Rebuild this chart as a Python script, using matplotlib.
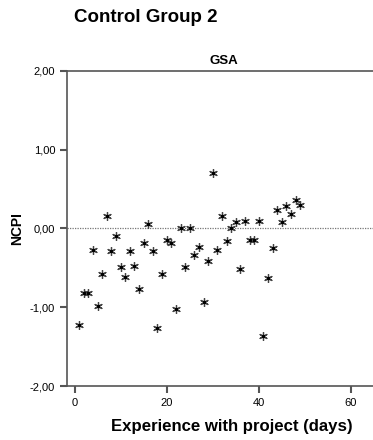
import matplotlib
matplotlib.use("Agg")
import matplotlib.pyplot as plt

plt.rcParams['font.family'] = ['Liberation Sans', 'DejaVu Sans']

days = list(range(1, 50))
ncpi = [-1.22, -0.82, -0.82, -0.27, -0.98, -0.58, 0.16, -0.29, -0.10, -0.49,
        -0.61, -0.29, -0.48, -0.77, -0.19, 0.06, -0.28, -1.26, -0.58, -0.15,
        -0.19, -1.02, 0.00, -0.49, 0.00, -0.34, -0.24, -0.93, -0.41, 0.71,
        -0.27, 0.16, -0.16, 0.00, 0.08, -0.51, 0.10, -0.15, -0.15, 0.10,
        -1.37, -0.63, -0.25, 0.23, 0.08, 0.28, 0.18, 0.36, 0.30]

y_ticks = [-2, -1, 0, 1, 2]
y_labels = ["-2,00", "-1,00", "0,00", "1,00", "2,00"]
x_ticks = [0, 20, 40, 60]

fig = plt.figure(figsize=(3.73, 4.40), dpi=100)
ax = fig.add_axes([67/373, 54/440, 306/373, 315/440])

axis_col = "#555555"
ax.axhline(0, color="#777777", lw=0.9, ls=(0, (1, 1)), zorder=1)
ax.plot(days, ncpi, ls="none", marker=(6, 2, 0), ms=6.2, mew=0.9,
        color="#444444", zorder=3)
ax.plot(days, ncpi, ls="none", marker="s", ms=2, color="black", zorder=4)

ax.set_xlim(-1.65, 64.8)
ax.set_ylim(-2, 2)
ax.set_xticks(x_ticks)
ax.set_yticks(y_ticks)
ax.set_yticklabels(y_labels)
ax.tick_params(axis="both", colors=axis_col, labelcolor="black",
               labelsize=8, length=5, width=1.5)
ax.spines["right"].set_visible(False)
for s in ["left", "bottom", "top"]:
    ax.spines[s].set_color(axis_col)
    ax.spines[s].set_linewidth(1.2)

# panel header, labels placed in figure pixels
fig.text(224/373, 1 - 61/440, "GSA", fontsize=9.5, fontweight="bold",
         ha="center", va="center")
fig.text(17/373, 1 - 229/440, "NCPI", fontsize=10, fontweight="bold",
         rotation=90, ha="center", va="center")
fig.text(231.5/373, 1 - 426/440, "Experience with project (days)",
         fontsize=12.1, fontweight="bold", ha="center", va="center")
fig.text(74/373, 1 - 17/440, "Control Group 2", fontsize=13.5,
         fontweight="bold", ha="left", va="center")

fig.savefig("out.png", dpi=100)
